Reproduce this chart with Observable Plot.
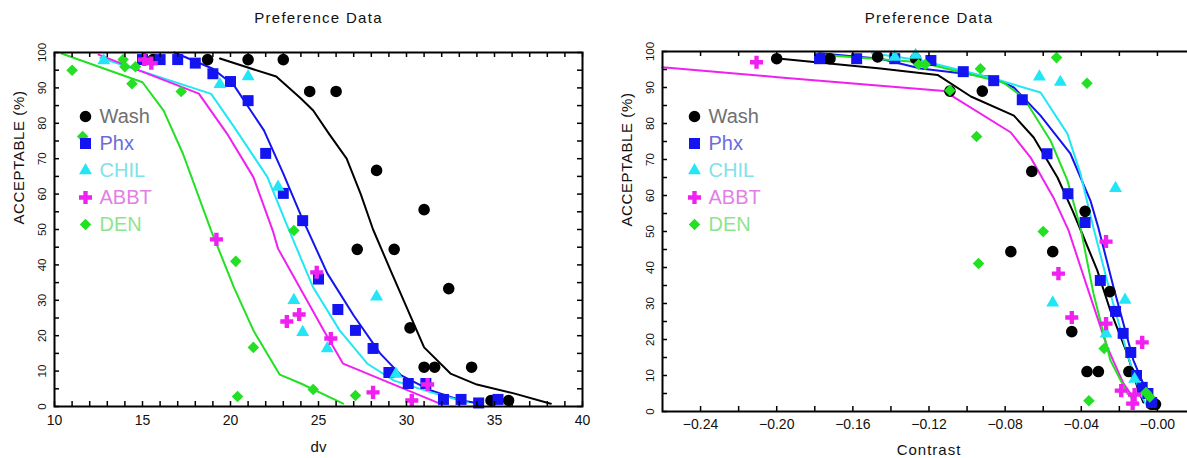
<!DOCTYPE html>
<html><head><meta charset="utf-8">
<script src="https://cdn.jsdelivr.net/npm/d3@7"></script>
<script src="https://cdn.jsdelivr.net/npm/@observablehq/plot@0.6"></script>
<style>
body{margin:0;background:#fff;overflow:hidden}
#wrap{display:flex;width:1187px;height:458px;overflow:hidden}
#wrap > *{flex:0 0 auto}
</style>
</head><body><div id="wrap"></div>
<script>
// ---- series ----
const series = ["Wash", "Phx", "CHIL", "ABBT", "DEN"];
const colors = ["#000000", "#1414f0", "#22e6f6", "#f020f0", "#22e022"];
const legendColors = ["#707070", "#6c6cdc", "#80e2e8", "#e280e6", "#8ee48e"];
const symbols = ["circle", "square", "triangle", "cross", "diamond2"];
const sizes = [5.8, 6.2, 4.8, 5.5, 5.2];

// ---- left panel: acceptable vs dv ----
const washDv = [15.6, 18.7, 21.0, 23.0, 24.5, 26.0, 27.2, 28.3, 29.3, 30.2, 31.0, 31.0, 31.6, 32.4, 33.7, 34.8, 35.8];
const washDvY = [98, 98, 98, 98, 89, 89, 44.4, 66.7, 44.4, 22.2, 55.6, 11.1, 11.1, 33.3, 11.1, 1.7, 1.7];
const phxDv = [15.0, 16.0, 17.0, 18.0, 19.0, 20.0, 21.0, 22.0, 23.0, 24.1, 25.0, 26.1, 27.1, 28.1, 29.0, 30.1, 31.1, 32.1, 33.1, 34.1, 35.2];
const phxDvY = [98, 98, 98, 97, 94, 91.8, 86.4, 71.5, 60.2, 52.5, 36, 27.4, 21.5, 16.4, 9.6, 6.5, 6.5, 2, 2, 1, 2];
const chilDv = [12.8, 19.4, 21.0, 22.7, 23.6, 24.1, 25.5, 28.3, 29.4];
const chilDvY = [97.7, 91, 93.2, 62, 30, 21, 16.4, 31, 9.2];
const abbtDv = [15.1, 15.5, 19.2, 23.2, 23.9, 24.9, 25.7, 28.1, 30.3, 31.2];
const abbtDvY = [98, 97, 47.2, 24, 26, 37.9, 19.2, 4, 1.7, 6.2];
const denDv = [11.0, 13.9, 14.0, 14.6, 14.4, 17.2, 11.6, 20.3, 21.3, 20.4, 23.6, 24.7, 27.1];
const denDvY = [95, 98, 96, 96, 91.2, 89, 76.3, 41, 16.7, 2.8, 49.7, 4.8, 3.1];

// fitted curves (left)
const washFitDv = [19.4, 22.6, 24.0, 24.7, 25.6, 26.6, 27.4, 28.1, 29.1, 31.0, 32.5, 34.0, 36.1, 38.2];
const washFitDvY = [98.3, 93.2, 87, 83.6, 77, 70, 60, 50, 38.4, 16.7, 9.3, 6.2, 3.7, 0.8];
const phxFitDv = [16.8, 19.0, 20.2, 21.9, 23.0, 24.0, 25.5, 27.0, 28.5, 29.7, 31.4, 33.1, 34.0];
const phxFitDvY = [100, 95.4, 90.7, 78, 65.8, 54, 37.6, 25.7, 15, 8.8, 4.5, 1.7, 1];
const chilFitDv = [12.6, 18.9, 20.2, 22.1, 23.1, 24.7, 26.2, 27.8, 29.3, 31.4, 33.5];
const chilFitDvY = [98.5, 88.3, 79, 64.8, 52.5, 33.6, 21.5, 12, 7.3, 4, 1.1];
const abbtFitDv = [12.5, 18.2, 19.8, 21.3, 22.4, 22.7, 25.3, 26.4, 31.9];
const abbtFitDvY = [99.4, 88.4, 77.1, 64.8, 49.7, 44.6, 21.5, 12.1, 0.8];
const denFitDv = [10.4, 15.0, 16.2, 17.3, 18.9, 20.2, 21.3, 22.8, 24.0, 26.4];
const denFitDvY = [99.7, 91.6, 83.6, 71.4, 49.7, 33.6, 21.5, 9, 6.5, 0.8];

// ---- right panel: acceptable vs contrast ----
const washC = [-0.200, -0.172, -0.147, -0.127, -0.109, -0.092, -0.077, -0.066, -0.055, -0.045, -0.038, -0.037, -0.031, -0.025, -0.015, -0.003, -0.001];
const washCY = [98, 98, 98.5, 98, 89, 89, 44.4, 66.7, 44.4, 22.2, 55.6, 11.1, 11.1, 33.3, 11.1, 2, 2];
const phxC = [-0.1775, -0.158, -0.138, -0.119, -0.102, -0.086, -0.071, -0.058, -0.047, -0.038, -0.030, -0.022, -0.018, -0.014, -0.011, -0.008, -0.005, -0.003];
const phxCY = [98, 98, 98, 97.5, 94.4, 91.9, 86.6, 71.6, 60.5, 52.5, 36.4, 27.8, 21.7, 16.4, 10, 6.7, 5, 2.5];
const chilC = [-0.138, -0.127, -0.062, -0.051, -0.022, -0.055, -0.017, -0.027, -0.012];
const chilCY = [98.5, 99, 93, 91.5, 62, 30.2, 31, 21.6, 9];
const abbtC = [-0.2106, -0.027, -0.052, -0.045, -0.027, -0.008, -0.019, -0.012, -0.013];
const abbtCY = [97, 47.2, 38.3, 26.1, 24.4, 19.2, 5.8, 4.7, 2.2];
const denC = [-0.1255, -0.122, -0.109, -0.093, -0.095, -0.094, -0.060, -0.053, -0.037, -0.028, -0.036, -0.006, -0.004];
const denCY = [96.4, 96.4, 89.2, 95.2, 76.4, 41.1, 50, 98.3, 91.2, 17.5, 3, 5.3, 4];

// fitted curves (right)
const washFitC = [-0.198, -0.1455, -0.1155, -0.098, -0.0754, -0.065, -0.0525, -0.0446, -0.040, -0.0316, -0.0247, -0.0158, -0.0105, -0.0074];
const washFitCY = [98, 95.3, 93.5, 87.5, 82.2, 76.1, 65, 55.8, 50, 39.2, 28, 16, 6.7, 2.5];
const phxFitC = [-0.178, -0.1455, -0.1245, -0.0877, -0.0754, -0.0614, -0.0457, -0.0352, -0.031, -0.023, -0.0126, -0.0053, -0.002];
const phxFitCY = [99.5, 98, 95.3, 93, 90, 82.2, 71.6, 58.6, 51, 34.4, 14.2, 5, 1.7];
const chilFitC = [-0.15, -0.124, -0.086, -0.0614, -0.0473, -0.0404, -0.0336, -0.0247, -0.0158, -0.009, -0.005];
const chilFitCY = [99.5, 97.5, 92.5, 88.6, 77.2, 66, 51, 32.8, 16, 5, 1];
const abbtFitC = [-0.26, -0.198, -0.112, -0.077, -0.0667, -0.0546, -0.0467, -0.0368, -0.0263, -0.0179, -0.0105];
const abbtFitCY = [95.6, 92.8, 89, 77.5, 70.6, 59.4, 50.3, 34.4, 17.8, 7.8, 2.2];
const denFitC = [-0.175, -0.1245, -0.081, -0.0704, -0.0562, -0.0473, -0.0404, -0.0336, -0.0247, -0.0158, -0.0105];
const denFitCY = [99, 97, 91.4, 87.2, 75.3, 64.2, 51, 32.8, 14.2, 5, 2.2];

// ---- ticks ----
const dvLabels = [10, 15, 20, 25, 30, 35, 40];
const dvTicks = [10,11,12,13,14,15,16,17,18,19,20,21,22,23,24,25,26,27,28,29,30,31,32,33,34,35,36,37,38,39,40];
const cLabels = [-0.24, -0.20, -0.16, -0.12, -0.08, -0.04, 0];
const cTicks = [-0.24, -0.22, -0.20, -0.18, -0.16, -0.14, -0.12, -0.10, -0.08, -0.06, -0.04, -0.02, 0, 0.02];
const yLabels = [0, 10, 20, 30, 40, 50, 60, 70, 80, 90, 100];
const yTicks = [0, 5, 10, 15, 20, 25, 30, 35, 40, 45, 50, 55, 60, 65, 70, 75, 80, 85, 90, 95, 100];

const zip = (name, xs, ys) => xs.map((x, i) => ({series: name, x, y: ys[i]}));
const FONT = "'Liberation Sans', Arial, sans-serif";
const spaced = {"Preference Data": 1.3, "Contrast": 1, "ACCEPTABLE (%)": 0.6};

function panel(opts) {
  const {width, marginLeft, marginRight, marginTop, marginBottom, domain, pts, fits,
         labels, ticks, fmt, xLabel, labDy, xTitleDy, legDx, legDy} = opts;
  const height = 458;
  const W = width - marginLeft - marginRight, H = height - marginTop - marginBottom;
  const marks = [];
  fits.forEach((f, i) => marks.push(Plot.line(f, {x: "x", y: "y", stroke: colors[i], strokeWidth: 2})));
  pts.forEach((p, i) => marks.push(Plot.dot(p, {x: "x", y: "y", fill: "series", symbol: "series", r: sizes[i]})));
  marks.push(Plot.frame({stroke: "black", strokeWidth: 2}));
  marks.push(Plot.ruleX(ticks, {x: d => d, insetTop: H - 5, stroke: "black", strokeWidth: 1.5}));
  marks.push(Plot.ruleX(ticks, {x: d => d, insetBottom: H - 5, stroke: "black", strokeWidth: 1.5}));
  marks.push(Plot.ruleY(yTicks, {y: d => d, insetRight: W - 5, stroke: "black", strokeWidth: 1.5}));
  marks.push(Plot.ruleY(yTicks, {y: d => d, insetLeft: W - 5, stroke: "black", strokeWidth: 1.5}));
  marks.push(Plot.text(labels, {x: d => d, frameAnchor: "bottom", dy: labDy, text: fmt, fontSize: 14, lineAnchor: "middle", fill: "#111"}));
  marks.push(Plot.text(yLabels, {y: d => d, frameAnchor: "left", dx: -12, rotate: -90, text: d => String(d), fontSize: 11.5, lineAnchor: "middle", textAnchor: "middle", fill: "#111"}));
  marks.push(Plot.text(["Preference Data"], {frameAnchor: "top", dy: -(marginTop - 18), text: d => d, fontSize: 15, lineAnchor: "middle", fill: "#111"}));
  marks.push(Plot.text([xLabel], {frameAnchor: "bottom", dy: xTitleDy, text: d => d, fontSize: 15, lineAnchor: "middle", fill: "#111"}));
  marks.push(Plot.text(["ACCEPTABLE (%)"], {frameAnchor: "left", dx: -35, dy: -5, rotate: -90, text: d => d, fontSize: 15, lineAnchor: "middle", fill: "#111"}));
  series.forEach((s, i) => {
    marks.push(Plot.dot([s], {frameAnchor: "top-left", dx: legDx, dy: legDy + 27 * i, fill: d => d, symbol: d => d, r: sizes[i]}));
    marks.push(Plot.text([s], {frameAnchor: "top-left", dx: legDx + 14, dy: legDy + 27 * i, text: d => d, fill: legendColors[i], fontSize: 20, textAnchor: "start", lineAnchor: "middle"}));
  });
  const svg = Plot.plot({
    width, height, marginLeft, marginRight, marginTop, marginBottom,
    style: {fontFamily: FONT, background: "white", overflow: "visible"},
    x: {domain, axis: null},
    y: {domain: [0, 100], axis: null},
    color: {domain: series, range: colors},
    symbol: {domain: series, range: symbols},
    marks
  });
  d3.select(svg).selectAll("text").each(function () {
    const ls = spaced[this.textContent];
    if (ls) this.setAttribute("letter-spacing", ls);
  });
  return svg;
}

const left = panel({
  width: 600, marginLeft: 54, marginRight: 18, marginTop: 52, marginBottom: 52,
  domain: [10, 40],
  pts: [zip("Wash", washDv, washDvY), zip("Phx", phxDv, phxDvY), zip("CHIL", chilDv, chilDvY), zip("ABBT", abbtDv, abbtDvY), zip("DEN", denDv, denDvY)],
  fits: [zip("Wash", washFitDv, washFitDvY), zip("Phx", phxFitDv, phxFitDvY), zip("CHIL", chilFitDv, chilFitDvY), zip("ABBT", abbtFitDv, abbtFitDvY), zip("DEN", denFitDv, denFitDvY)],
  labels: dvLabels, ticks: dvTicks, fmt: d => String(d), xLabel: "dv", labDy: 14, xTitleDy: 41, legDx: 31, legDy: 64
});

const cfmt = d => (d === 0 ? "\u22120.00" : (d < 0 ? "\u2212" : "") + Math.abs(d).toFixed(2));
const right = panel({
  width: 605, marginLeft: 62, marginRight: 10, marginTop: 51, marginBottom: 47,
  domain: [-0.26, 0.02],
  pts: [zip("Wash", washC, washCY), zip("Phx", phxC, phxCY), zip("CHIL", chilC, chilCY), zip("ABBT", abbtC, abbtCY), zip("DEN", denC, denCY)],
  fits: [zip("Wash", washFitC, washFitCY), zip("Phx", phxFitC, phxFitCY), zip("CHIL", chilFitC, chilFitCY), zip("ABBT", abbtFitC, abbtFitCY), zip("DEN", denFitC, denFitCY)],
  labels: cLabels, ticks: cTicks, fmt: cfmt, xLabel: "Contrast", labDy: 13, xTitleDy: 39, legDx: 32, legDy: 65
});

document.getElementById("wrap").append(left, right);
</script>
</body></html>
